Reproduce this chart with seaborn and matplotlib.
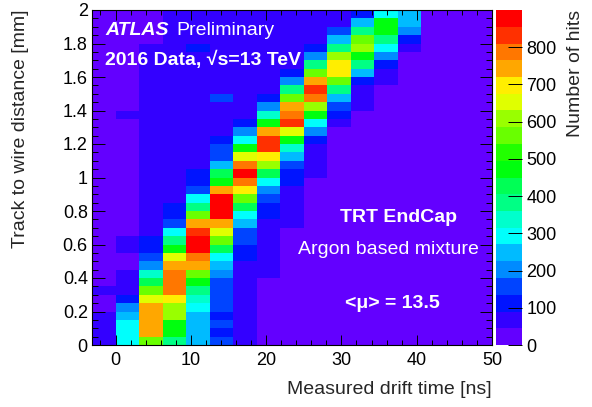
import colorsys
import numpy as np
import pandas as pd
import matplotlib
matplotlib.use("Agg")
import matplotlib.pyplot as plt
from matplotlib.colors import ListedColormap
from matplotlib.ticker import MultipleLocator
import seaborn as sns

# ---------------- data ----------------
drift_edges = [-3.125, 0.0, 3.125, 6.25, 9.375, 12.5, 15.625, 18.75, 21.875,
               25.0, 28.125, 31.25, 34.375, 37.5, 40.625, 43.75, 46.875, 50.0]
dist_edges = list(np.round(np.arange(0, 2.0001, 0.05), 3))

# number of hits per distance bin (0 -> 2 mm, 0.05 mm steps) for each drift-time bin
hits_bin00 = [67, 67, 67, 67, 22, 22, 67, 22, 22, 22, 22, 22, 22, 22, 22, 22, 22, 22, 22, 22,
              22, 22, 22, 22, 22, 22, 22, 22, 22, 22, 22, 22, 22, 22, 22, 22, 22, 22, 22, 22]
hits_bin01 = [292, 292, 292, 247, 202, 112, 67, 67, 67, 22, 22, 67, 67, 22, 22, 22, 22, 22, 22, 22,
              22, 22, 22, 22, 22, 22, 22, 67, 22, 22, 22, 22, 22, 22, 22, 22, 22, 22, 22, 22]
hits_bin02 = [562, 742, 742, 742, 742, 652, 562, 427, 337, 202, 157, 112, 112, 67, 67, 67, 67, 67, 67, 67,
              67, 67, 67, 67, 67, 67, 67, 67, 67, 67, 67, 67, 67, 67, 67, 67, 22, 22, 22, 22]
hits_bin03 = [382, 472, 472, 607, 607, 697, 787, 787, 787, 742, 652, 472, 382, 292, 157, 112, 112, 67, 67, 67,
              67, 67, 67, 67, 67, 67, 67, 67, 67, 67, 67, 67, 67, 67, 67, 67, 67, 67, 67, 67]
hits_bin04 = [247, 247, 247, 247, 292, 337, 382, 472, 562, 742, 787, 877, 877, 832, 742, 562, 382, 292, 157, 112,
              112, 67, 67, 67, 67, 67, 67, 67, 67, 67, 67, 67, 67, 67, 67, 112, 67, 67, 67, 67]
hits_bin05 = [157, 112, 157, 112, 157, 157, 157, 157, 202, 247, 292, 427, 562, 652, 742, 877, 877, 877, 742, 472,
              427, 247, 157, 157, 112, 67, 67, 67, 67, 157, 67, 67, 67, 67, 67, 67, 67, 67, 67, 67]
hits_bin06 = [67, 67, 67, 67, 67, 67, 67, 67, 67, 67, 112, 112, 157, 157, 247, 292, 427, 562, 697, 787,
              877, 787, 652, 472, 292, 202, 112, 67, 67, 67, 67, 67, 67, 67, 67, 67, 67, 67, 67, 67]
hits_bin07 = [22, 22, 22, 22, 22, 22, 22, 22, 67, 67, 67, 67, 67, 67, 67, 112, 112, 157, 202, 292,
              427, 607, 697, 832, 832, 742, 472, 337, 202, 112, 67, 67, 67, 67, 67, 67, 67, 67, 67, 67]
hits_bin08 = [22, 22, 22, 22, 22, 22, 22, 22, 22, 22, 22, 22, 22, 22, 67, 67, 67, 67, 67, 112,
              112, 157, 247, 337, 472, 652, 832, 787, 742, 562, 382, 202, 112, 67, 67, 67, 67, 67, 67, 67]
hits_bin09 = [22, 22, 22, 22, 22, 22, 22, 22, 22, 22, 22, 22, 22, 22, 22, 22, 22, 22, 22, 22,
              67, 67, 67, 67, 112, 202, 292, 472, 607, 787, 832, 742, 562, 382, 202, 112, 67, 67, 67, 67]
hits_bin10 = [22, 22, 22, 22, 22, 22, 22, 22, 22, 22, 22, 22, 22, 22, 22, 22, 22, 22, 22, 22,
              22, 22, 22, 22, 22, 22, 67, 112, 157, 247, 382, 562, 697, 697, 607, 382, 247, 157, 67, 67]
hits_bin11 = [22, 22, 22, 22, 22, 22, 22, 22, 22, 22, 22, 22, 22, 22, 22, 22, 22, 22, 22, 22,
              22, 22, 22, 22, 22, 22, 22, 22, 67, 67, 67, 112, 247, 382, 472, 607, 562, 382, 247, 112]
hits_bin12 = [22, 22, 22, 22, 22, 22, 22, 22, 22, 22, 22, 22, 22, 22, 22, 22, 22, 22, 22, 22,
              22, 22, 22, 22, 22, 22, 22, 22, 22, 22, 22, 67, 67, 112, 202, 292, 382, 472, 472, 292]
hits_bin13 = [22, 22, 22, 22, 22, 22, 22, 22, 22, 22, 22, 22, 22, 22, 22, 22, 22, 22, 22, 22,
              22, 22, 22, 22, 22, 22, 22, 22, 22, 22, 22, 22, 22, 22, 22, 67, 112, 202, 247, 247]
hits_bin14 = [22] * 40
hits_bin15 = [22] * 40
hits_bin16 = [22] * 40

hits_columns = [hits_bin00, hits_bin01, hits_bin02, hits_bin03, hits_bin04, hits_bin05,
                hits_bin06, hits_bin07, hits_bin08, hits_bin09, hits_bin10, hits_bin11,
                hits_bin12, hits_bin13, hits_bin14, hits_bin15, hits_bin16]

x_ticks = [0, 10, 20, 30, 40, 50]
y_ticks = [0, 0.2, 0.4, 0.6, 0.8, 1.0, 1.2, 1.4, 1.6, 1.8, 2.0]
y_ticklabels = ["0", "0.2", "0.4", "0.6", "0.8", "1", "1.2", "1.4", "1.6", "1.8", "2"]
z_ticks = [0, 100, 200, 300, 400, 500, 600, 700, 800]
z_max = 900

# long-form table for seaborn
rows = []
for i, col in enumerate(hits_columns):
    xc = 0.5 * (drift_edges[i] + drift_edges[i + 1])
    for j, h in enumerate(col):
        yc = 0.5 * (dist_edges[j] + dist_edges[j + 1])
        rows.append((xc, yc, h))
df = pd.DataFrame(rows, columns=["drift", "dist", "hits"])

# ---------------- style ----------------
# ROOT "pretty" palette (HLS hue scan violet -> red), sampled for 20 contours
pal = []
for k in range(20):
    idx = int((k + 0.99) * 50 / 20)
    hue = max(280 - (idx + 1) * 5.6, 0)
    pal.append(colorsys.hls_to_rgb(hue / 360.0, 0.5, 1.0))
cmap = ListedColormap(pal)

sns.set_style("ticks")
plt.rcParams["font.family"] = ["Liberation Sans", "DejaVu Sans"]
plt.rcParams["axes.linewidth"] = 0.8
plt.rcParams["axes.axisbelow"] = False

W, H = 592, 407
fig = plt.figure(figsize=(W / 100, H / 100), dpi=100)
L, R, T, B = 92, 492, 10, 345
ax = fig.add_axes([L / W, 1 - B / H, (R - L) / W, (B - T) / H])
cax = fig.add_axes([496 / W, 1 - B / H, 26 / W, (B - T) / H])

sns.histplot(data=df, x="drift", y="dist", weights="hits",
             bins=[drift_edges, dist_edges], cmap=cmap, vmin=0, vmax=z_max,
             cbar=True, cbar_ax=cax, ax=ax)

ax.set_axisbelow(False)
cax.set_axisbelow(False)
ax.set_xlim(drift_edges[0], drift_edges[-1])
ax.set_ylim(dist_edges[0], dist_edges[-1])
ax.set_xticks(x_ticks)
ax.set_xticklabels([str(t) for t in x_ticks])
ax.set_yticks(y_ticks)
ax.set_yticklabels(y_ticklabels)
ax.xaxis.set_minor_locator(MultipleLocator(2))
ax.yaxis.set_minor_locator(MultipleLocator(0.05))
ax.tick_params(which="both", direction="in", top=True, right=True,
               bottom=True, left=True, colors="black", width=0.7, labelsize=13)
ax.tick_params(axis="x", which="major", length=7, pad=5)
ax.tick_params(axis="x", which="minor", length=3.5)
ax.tick_params(axis="y", which="major", length=9, pad=3)
ax.tick_params(axis="y", which="minor", length=4.5)
ax.set_xlabel("")
ax.set_ylabel("")
for s in ax.spines.values():
    s.set_color("black")
    s.set_linewidth(0.8)
    s.set_zorder(5)

cax.set_yticks(z_ticks)
cax.yaxis.set_ticks_position("right")
cax.tick_params(axis="y", which="major", direction="in", length=10, width=0.7,
                labelsize=13, pad=3, colors="black", right=True, left=False)
cax.minorticks_off()
for s in cax.spines.values():
    s.set_visible(False)
cax.set_ylabel("")

def fx(x):
    return x / W

def fy(y):
    return 1 - y / H

fig.text(fx(R), fy(390), "Measured drift time [ns]", ha="right", va="center", fontsize=14)
fig.text(fx(21), fy(T), "Track to wire distance [mm]", ha="center", va="top",
         rotation=90, fontsize=14)
fig.text(fx(575), fy(T), "Number of hits", ha="center", va="top", rotation=90, fontsize=14)

fig.text(fx(105), fy(35), "ATLAS", color="white", fontsize=14, fontweight="bold",
         fontstyle="italic", va="baseline")
fig.text(fx(176), fy(35), "Preliminary", color="white", fontsize=14, va="baseline")
fig.text(fx(105), fy(65), "2016 Data, \u221as=13 TeV", color="white", fontsize=14,
         fontweight="bold", va="baseline")
fig.text(fx(399), fy(222), "TRT EndCap", color="white", fontsize=14, fontweight="bold",
         ha="center", va="baseline")
fig.text(fx(388), fy(254), "Argon based mixture", color="white", fontsize=14,
         ha="center", va="baseline")
fig.text(fx(392), fy(308), "<\u03bc> = 13.5", color="white", fontsize=14, fontweight="bold",
         ha="center", va="baseline")

fig.savefig("out.png", dpi=100)
